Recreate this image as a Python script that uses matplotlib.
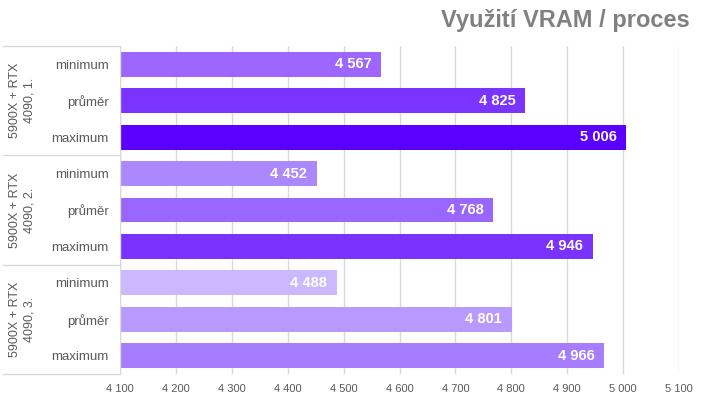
import matplotlib
matplotlib.use("Agg")
import matplotlib.pyplot as plt

plt.rcParams['font.family'] = ['Liberation Sans', 'DejaVu Sans']

title = "Využití VRAM / proces"
groups = ["5900X + RTX\n4090, 1.", "5900X + RTX\n4090, 2.", "5900X + RTX\n4090, 3."]
subcats = ["minimum", "průměr", "maximum"]
values = [[4567, 4825, 5006],
          [4452, 4768, 4946],
          [4488, 4801, 4966]]
colors = [["#9C66FF", "#7B33FF", "#5B00FF"],
          ["#AC88FF", "#9966FF", "#7A33FF"],
          ["#CCB8FF", "#B89AFF", "#A67DFF"]]
xticks = [4100, 4200, 4300, 4400, 4500, 4600, 4700, 4800, 4900, 5000, 5100]

W, H = 720, 405
fig = plt.figure(figsize=(W / 100, H / 100), dpi=100)
L, R, T, B = 120, 679, 46, 374
ax = fig.add_axes([L / W, 1 - B / H, (R - L) / W, (B - T) / H])

base = 4100
ypos, labels = [], []
i = 0
for g, (vals, cols) in enumerate(zip(values, colors)):
    for s, (v, c) in enumerate(zip(vals, cols)):
        ax.barh(i, v - base, left=base, height=0.68, color=c, zorder=3)
        ax.annotate(f"{v:,}".replace(",", " "), xy=(v, i), xytext=(-7, 0),
                    textcoords="offset points", ha="right", va="center",
                    color="white", fontsize=10.5, fontweight="bold", zorder=4)
        ypos.append(i)
        labels.append(subcats[s])
        i += 1

ax.set_xlim(4100, 5100)
ax.set_ylim(8.5, -0.5)
ax.set_xticks(xticks)
ax.set_xticklabels([f"{t:,}".replace(",", " ") for t in xticks])
ax.set_yticks(ypos)
ax.set_yticklabels(labels)
ax.tick_params(axis='y', length=0, pad=8, labelsize=9.5, labelcolor="#595959")
ax.tick_params(axis='x', length=0, pad=7, labelsize=8, labelcolor="#595959")
ax.grid(axis='x', color="#D9D9D9", linewidth=1, zorder=0)
for sp in ax.spines.values():
    sp.set_visible(False)
ax.axvline(4100, color="#D9D9D9", linewidth=1, zorder=5)

# group separators
x0 = (3 - L) / (R - L)
for yb in [-0.5, 2.5, 5.5, 8.5]:
    ax.plot([x0, 0], [yb, yb], transform=ax.get_yaxis_transform(),
            color="#D9D9D9", linewidth=1, clip_on=False)
xg = (22 - L) / (R - L)
for g, name in enumerate(groups):
    ax.text(xg, 3 * g + 1, name, transform=ax.get_yaxis_transform(),
            rotation=90, ha="center", va="center", fontsize=9,
            color="#595959", linespacing=1.3, multialignment="center")

fig.text(690 / W, 1 - 20 / H, title, ha="right", va="center",
         fontsize=17, fontweight="bold", color="#808080")

fig.savefig("out.png", dpi=100)
